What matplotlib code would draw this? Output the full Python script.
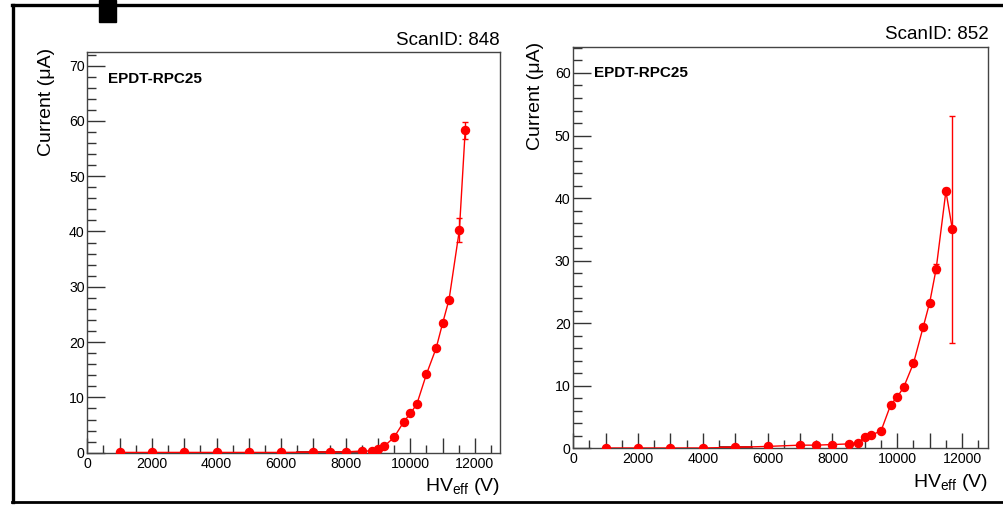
import matplotlib
matplotlib.use("Agg")
import matplotlib.pyplot as plt
from matplotlib.ticker import MultipleLocator, FuncFormatter
from matplotlib.lines import Line2D
from matplotlib.patches import Rectangle

plt.rcParams['font.family'] = ['Liberation Sans', 'DejaVu Sans']
plt.rcParams['mathtext.fontset'] = 'custom'
plt.rcParams['mathtext.rm'] = 'Liberation Sans'

# Scan 848
hv_848 = [1000, 2000, 3000, 4000, 5000, 6000, 7000, 7500, 8000, 8500, 8800, 9000,
          9200, 9500, 9800, 10000, 10200, 10500, 10800, 11000, 11200, 11520, 11700]
cur_848 = [0.05, 0.05, 0.05, 0.05, 0.05, 0.05, 0.1, 0.1, 0.15, 0.3, 0.3, 0.6,
           1.2, 2.8, 5.6, 7.1, 8.75, 14.2, 18.9, 23.4, 27.7, 40.3, 58.3]
err_848 = [0.05, 0.05, 0.05, 0.05, 0.05, 0.05, 0.05, 0.05, 0.05, 0.1, 0.1, 0.1,
           0.1, 0.1, 0.2, 0.2, 0.2, 0.3, 0.3, 0.3, 0.3, 2.2, 1.5]
dark_848_x = [6500, 8450]
dark_848_y = [0.15, 0.15]

# Scan 852
hv_852 = [1000, 2000, 3000, 4000, 5000, 6000, 7000, 7500, 8000, 8500, 8800, 9000,
          9200, 9500, 9800, 10000, 10200, 10500, 10800, 11000, 11200, 11500, 11700]
cur_852 = [0.05, 0.05, 0.05, 0.05, 0.15, 0.3, 0.5, 0.5, 0.6, 0.7, 0.9, 1.8,
           2.1, 2.8, 7.0, 8.2, 9.8, 13.6, 19.4, 23.3, 28.7, 41.1, 35.0]
err_852 = [0.05, 0.05, 0.05, 0.05, 0.05, 0.05, 0.05, 0.05, 0.05, 0.1, 0.1, 0.1,
           0.1, 0.1, 0.2, 0.2, 0.2, 0.3, 0.3, 0.3, 0.7, 0.5, 18.1]
dark_852_x = [4520, 5520]
dark_852_y = [0.15, 0.15]

fig = plt.figure(figsize=(10.04, 5.05), dpi=100)

# outer frame
fig.add_artist(Line2D([0.012, 1.0], [0.9892, 0.9892], color='black', lw=2.4))
fig.add_artist(Line2D([0.0133, 0.0133], [0.0054, 0.9892], color='black', lw=2.4))
fig.add_artist(Line2D([0.012, 1.0], [0.0055, 0.0055], color='black', lw=2.0))
fig.add_artist(Rectangle((0.0986, 0.956), 0.0170, 0.044, color='black'))


def thousands(v, pos):
    v = int(round(v))
    return str(v) if v % 2000 == 0 else ''


def panel(rect, hv, cur, err, dark_x, dark_y, xmax, ymax, scan, ylab_x):
    ax = fig.add_axes(rect)
    ax.errorbar(hv, cur, yerr=err, color='red', lw=1.0, marker='o', ms=5.8,
                capsize=2.5, elinewidth=1.0, zorder=3)
    ax.plot(dark_x, dark_y, color='#9b0000', lw=1.2, zorder=2)
    ax.set_xlim(0, xmax)
    ax.set_ylim(0, ymax)
    ax.xaxis.set_major_locator(MultipleLocator(1000))
    ax.xaxis.set_minor_locator(MultipleLocator(500))
    ax.xaxis.set_major_formatter(FuncFormatter(thousands))
    ax.yaxis.set_major_locator(MultipleLocator(10))
    ax.yaxis.set_minor_locator(MultipleLocator(2))
    ax.tick_params(axis='x', which='major', direction='in', length=11, width=1,
                   labelsize=10.2, pad=3, color='#333333')
    ax.tick_params(axis='x', which='minor', direction='in', length=6, width=1,
                   color='#333333')
    ax.tick_params(axis='y', which='major', direction='in', length=13, width=1,
                   labelsize=10.2, pad=2, color='#333333')
    ax.tick_params(axis='y', which='minor', direction='in', length=6.5, width=1,
                   color='#333333')
    for s in ax.spines.values():
        s.set_color('#444444')
        s.set_linewidth(1.0)
    ax.text(ylab_x, 1.012, 'Current (\u03bcA)', transform=ax.transAxes,
            rotation=90, ha='center', va='top', fontsize=14)
    ax.text(1.0, 1.008, 'ScanID: %d' % scan, transform=ax.transAxes,
            ha='right', va='bottom', fontsize=13.5)
    ax.text(0.05, 0.952, 'EPDT-RPC25', transform=ax.transAxes,
            ha='left', va='top', fontsize=11, fontweight='bold')
    ax.text(1.0, -0.058, r'HV$_\mathregular{eff}$ (V)', transform=ax.transAxes,
            ha='right', va='top', fontsize=14)
    return ax


panel([0.0870, 0.1036, 0.4110, 0.7928], hv_848, cur_848, err_848,
      dark_848_x, dark_848_y, 12777, 72.4, 848, -0.098)
panel([0.5710, 0.1123, 0.4134, 0.7952], hv_852, cur_852, err_852,
      dark_852_x, dark_852_y, 12810, 64.2, 852, -0.092)

fig.savefig('out.png', dpi=100)
